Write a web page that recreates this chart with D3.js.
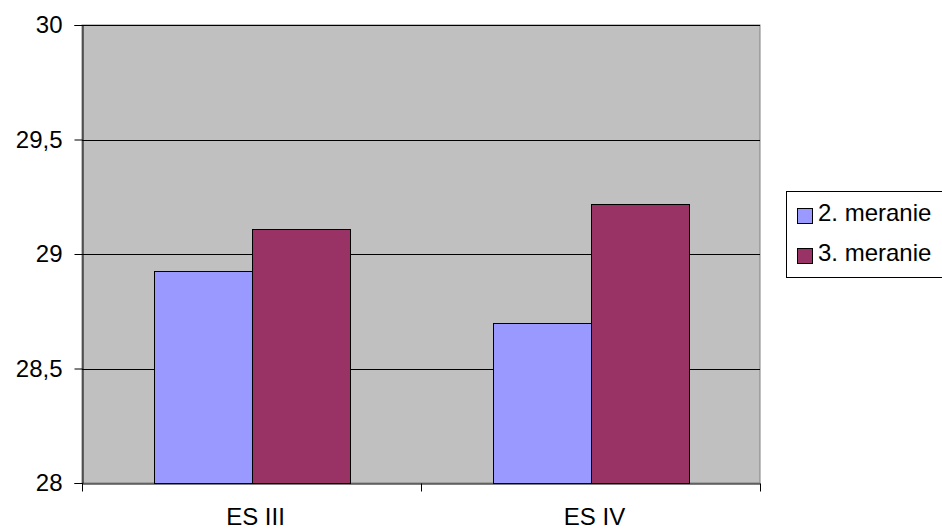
<!DOCTYPE html>
<html>
<head>
<meta charset="utf-8">
<script src="https://cdnjs.cloudflare.com/ajax/libs/d3/7.8.5/d3.min.js"></script>
<style>
  body { margin: 0; background: #fff; }
  text { font-family: "Liberation Sans", Arial, sans-serif; fill: #000; }
</style>
</head>
<body>
<div id="chart"></div>
<script>
// data
var categories = ["ES III", "ES IV"];
var seriesNames = ["2. meranie", "3. meranie"];
var meranie2 = [28.925, 28.70];
var meranie3 = [29.11, 29.22];
var yTicks = [28, 28.5, 29, 29.5, 30];

var colors = ["#9999FF", "#993366"];
var plot = { left: 82, top: 25, right: 760, bottom: 483 };

var svg = d3.select("#chart")
    .append("svg")
    .attr("width", 942)
    .attr("height", 531);

// scales
var x = d3.scaleBand()
    .domain(categories)
    .range([plot.left, plot.right]);

var xInner = d3.scaleBand()
    .domain(seriesNames)
    .range([0, x.bandwidth()])
    .paddingOuter(0.73);

var y = d3.scaleLinear()
    .domain([28, 30])
    .range([plot.bottom, plot.top]);

// plot background
svg.append("rect")
    .attr("x", plot.left)
    .attr("y", plot.top)
    .attr("width", plot.right - plot.left)
    .attr("height", plot.bottom - plot.top)
    .attr("fill", "#C0C0C0")
    .attr("stroke", "#808080")
    .attr("stroke-width", 1);

// gridlines
svg.append("g")
    .selectAll("line")
    .data(yTicks.slice(1))
    .enter()
    .append("line")
    .attr("x1", plot.left)
    .attr("x2", plot.right)
    .attr("y1", function (d) { return Math.round(y(d)) + 0.5; })
    .attr("y2", function (d) { return Math.round(y(d)) + 0.5; })
    .attr("stroke", "#000")
    .attr("stroke-width", 1);

// bars
var rows = categories.map(function (c, i) {
    return { cat: c, values: [meranie2[i], meranie3[i]] };
});

var groups = svg.append("g")
    .selectAll("g")
    .data(rows)
    .enter()
    .append("g")
    .attr("transform", function (d) { return "translate(" + x(d.cat) + ",0)"; });

groups.selectAll("rect")
    .data(function (d) {
        return d.values.map(function (v, j) { return { name: seriesNames[j], value: v, j: j }; });
    })
    .enter()
    .append("rect")
    .attr("x", function (d) { return Math.round(xInner(d.name)) + 0.5; })
    .attr("y", function (d) { return Math.round(y(d.value)) + 0.5; })
    .attr("width", Math.round(xInner.bandwidth()))
    .attr("height", function (d) { return Math.round(y(28)) - Math.round(y(d.value)); })
    .attr("fill", function (d) { return colors[d.j]; })
    .attr("stroke", "#000")
    .attr("stroke-width", 1);

// Y axis
var yAxis = svg.append("g")
    .attr("transform", "translate(" + (plot.left + 0.5) + ",0)")
    .call(d3.axisLeft(y)
        .tickValues(yTicks)
        .tickSize(8)
        .tickPadding(12)
        .tickFormat(function (d) { return String(d).replace(".", ","); }));

yAxis.select(".domain").attr("stroke", "#000");
yAxis.selectAll(".tick line").attr("stroke", "#000");
yAxis.selectAll("text")
    .attr("font-size", "24px")
    .attr("font-family", "Liberation Sans, Arial, sans-serif");

// X axis
var xAxis = svg.append("g")
    .attr("transform", "translate(0," + (plot.bottom + 0.5) + ")")
    .call(d3.axisBottom(x).tickSize(0).tickPadding(24));

xAxis.select(".domain").attr("stroke", "#000");
xAxis.selectAll("text")
    .attr("font-size", "24px")
    .attr("dx", 4)
    .attr("font-family", "Liberation Sans, Arial, sans-serif");

// X boundary ticks between categories
xAxis.append("g")
    .selectAll("line")
    .data([plot.left, x(categories[1]), plot.right])
    .enter()
    .append("line")
    .attr("x1", function (d) { return Math.round(d) + 0.5; })
    .attr("x2", function (d) { return Math.round(d) + 0.5; })
    .attr("y1", 0)
    .attr("y2", 8)
    .attr("stroke", "#000");

// legend
var legend = svg.append("g")
    .attr("transform", "translate(786,191)");

legend.append("rect")
    .attr("x", 0.5)
    .attr("y", 0.5)
    .attr("width", 170)
    .attr("height", 86)
    .attr("fill", "#fff")
    .attr("stroke", "#000");

var items = legend.selectAll(".item")
    .data(seriesNames)
    .enter()
    .append("g")
    .attr("class", "item")
    .attr("transform", function (d, i) { return "translate(0," + (i * 40) + ")"; });

items.append("rect")
    .attr("x", 11.5)
    .attr("y", 17.5)
    .attr("width", 15)
    .attr("height", 15)
    .attr("fill", function (d, i) { return colors[i]; })
    .attr("stroke", "#000");

items.append("text")
    .attr("x", 32)
    .attr("y", 30)
    .attr("font-size", "24px")
    .text(function (d) { return d; });
</script>
</body>
</html>
